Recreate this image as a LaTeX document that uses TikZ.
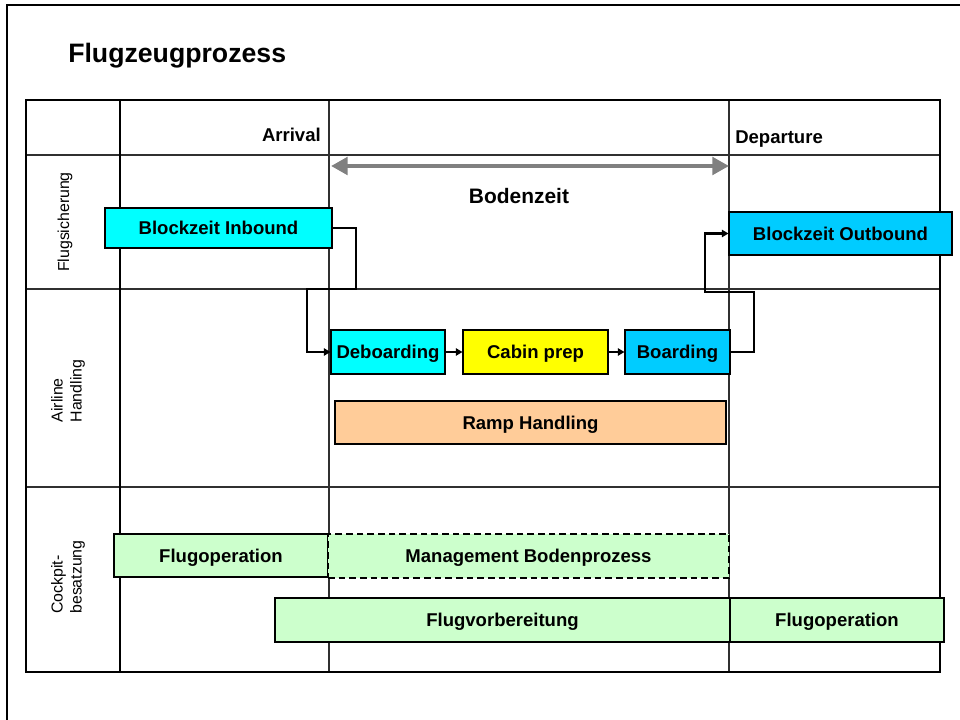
\documentclass[tikz,border=0pt]{standalone}
\usepackage{fontspec}
\setmainfont{Liberation Sans}
\usetikzlibrary{arrows.meta}
\definecolor{cyanA}{HTML}{00FFFF}
\definecolor{skyA}{HTML}{00CCFF}
\definecolor{yelA}{HTML}{FFFF00}
\definecolor{peachA}{HTML}{FFCC99}
\definecolor{greenA}{HTML}{CCFFCC}
\definecolor{grayA}{HTML}{808080}
\definecolor{lineA}{HTML}{303030}
\tikzset{
  bw/.style={minimum width={#1*0.75pt}},
  bh/.style={minimum height={#1*0.75pt}},
  box/.style={draw=black, line width=0.8pt, inner sep=0pt, text height=9.95pt, text depth=0pt, font=\fontsize{13.9}{16}\selectfont\bfseries},
  hdr/.style={inner sep=0pt, font=\fontsize{13.9}{16}\selectfont\bfseries},
  side/.style={inner sep=0pt, rotate=90, align=left, font=\fontsize{11.9}{14.2}\selectfont},
  conn/.style={line width=1.6pt, -{Triangle[length=5pt,width=5.5pt]}},
  thickgrid/.style={line width=1.9pt, black},
  thingrid/.style={line width=0.8pt, lineA},
}
\begin{document}
\begin{tikzpicture}[x=0.75pt,y=-0.75pt]
\useasboundingbox (0,0) rectangle (960,720);
% page frame
\draw[line width=1.2pt] (7,725) -- (7,5) -- (965,5);
% title
\node[anchor=base west, inner sep=0pt, font=\fontsize{20}{24}\selectfont\bfseries] (title) at (68,63) {Flugzeugprozess};
% grid
\draw[thingrid] (26,155) -- (940,155);
\draw[thingrid] (26,289) -- (940,289);
\draw[thingrid] (26,487) -- (940,487);
\draw[thingrid] (329,100) -- (329,672);
\draw[thingrid] (729,100) -- (729,672);
\draw[thickgrid] (120,100) -- (120,672);
\draw[thickgrid] (26,100) rectangle (940,672);
% headers
\node[hdr, anchor=base east] (arr) at (321,142) {Arrival};
\node[hdr, anchor=base west] (dep) at (735,144) {Departure};
\node[side] (fs) at (65,222) {Flugsicherung};
\node[side] (ah) at (68,391) {Airline\\Handling};
\node[side] (cb) at (68,577) {Cockpit-\\besatzung};
% ground time arrow
\coordinate (bzL) at (331,166);
\coordinate (bzR) at (729,166);
\draw[grayA, line width=3.6pt, {Triangle[length=12.5pt,width=13pt]}-{Triangle[length=12.5pt,width=13pt]}] (bzL) -- (bzR);
\node[anchor=base, inner sep=0pt, font=\fontsize{15.7}{18}\selectfont\bfseries] (bz) at (519,204) {Bodenzeit};
% boxes
\node[box, fill=cyanA, bw=227, bh=40] (inb) at (218.5,228) {Blockzeit Inbound};
\node[box, fill=skyA, bw=223, bh=43] (outb) at (840.5,233.5) {Blockzeit Outbound};
\node[box, fill=cyanA, bw=114, bh=44] (deb) at (388,352) {Deboarding};
\node[box, fill=yelA, bw=145, bh=44] (cab) at (535.5,352) {Cabin prep};
\node[box, fill=skyA, bw=105, bh=44] (boa) at (677.5,352) {Boarding};
\node[box, fill=peachA, bw=391, bh=43] (ramp) at (530.5,422.5) {Ramp Handling};
\node[box, fill=greenA, bw=214, bh=43] (fop1) at (221,555.5) {Flugoperation};
\node[box, fill=greenA, bw=401, bh=44, dashed, dash pattern=on 5pt off 3pt] (mgmt) at (528.5,556) {Management Bodenprozess};
\node[box, fill=greenA, bw=455, bh=44] (fvb) at (502.5,620) {Flugvorbereitung};
\node[box, fill=greenA, bw=214, bh=44] (fop2) at (837,620) {Flugoperation};
% connectors
\draw[conn] (inb.east) -| (356,289) -| (307,352) -- (deb.west);
\draw[conn] (deb.east) -- (cab.west);
\draw[conn] (cab.east) -- (boa.west);
\draw[conn] (boa.east) -| (754,292) -| (705,233.5) -- (outb.west);
\end{tikzpicture}
\end{document}
